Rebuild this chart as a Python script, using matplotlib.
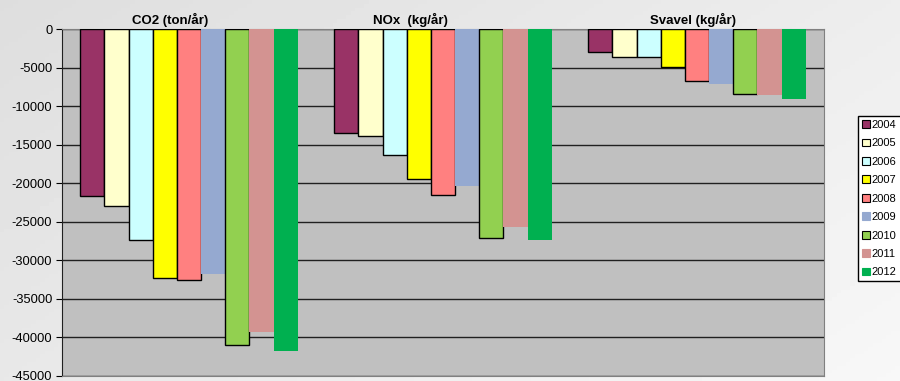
import numpy as np
import matplotlib
matplotlib.use('Agg')
import matplotlib.pyplot as plt
from matplotlib.patches import Patch

plt.rcParams['font.family'] = ['Liberation Sans', 'DejaVu Sans']

# 데이터
groups = ['CO2 (ton/år)', 'NOx  (kg/år)', 'Svavel (kg/år)']
years = ['2004', '2005', '2006', '2007', '2008', '2009', '2010', '2011', '2012']
co2 = [-21700, -22900, -27400, -32300, -32500, -31700, -41000, -39300, -41800]
nox = [-13400, -13800, -16300, -19400, -21500, -20400, -27100, -25600, -27400]
svavel = [-3000, -3550, -3650, -4850, -6650, -7100, -8350, -8550, -9000]

colors = ['#993366', '#FFFFCC', '#CCFFFF', '#FFFF00', '#FF8080',
          '#95A9D0', '#92D050', '#D39391', '#00B050']
edged = [True, True, True, True, True, False, True, False, False]

values = np.array([co2, nox, svavel])

fig = plt.figure(figsize=(9, 3.81), dpi=100)

# 배경 그라데이션
bg = fig.add_axes([0, 0, 1, 1], zorder=-10)
xx, yy = np.meshgrid(np.linspace(0, 1, 200), np.linspace(0, 1, 100))
grad = 0.87 + 0.10 * (0.6 * xx + 0.4 * yy)
bg.imshow(grad, cmap='gray', vmin=0, vmax=1, aspect='auto', extent=[0, 1, 0, 1], origin='upper')
bg.axis('off')

ax = fig.add_axes([62 / 900, 1 - 376 / 381, (824 - 62) / 900, (376 - 29.3) / 381])
ax.set_facecolor('#C0C0C0')

n = len(years)
w = 1 / 10.5
x = np.arange(len(groups))
for i in range(n):
    pos = x - 0.5 + 0.75 * w + (i + 0.5) * w
    ax.bar(pos, values[:, i], width=w, color=colors[i],
           edgecolor='black' if edged[i] else colors[i],
           linewidth=1.0 if edged[i] else 0, zorder=3)

ax.set_xlim(-0.5, 2.5)
ax.set_ylim(-45000, 0)
ax.set_yticks(np.arange(-45000, 1, 5000))
ax.set_yticklabels([str(v) for v in np.arange(-45000, 1, 5000)])
ax.yaxis.grid(True, color='#202020', linewidth=1.0, zorder=1)
ax.set_xticks([])
ax.tick_params(axis='y', direction='out', length=4, labelsize=9.3, pad=3)
for s in ['top', 'right', 'bottom']:
    ax.spines[s].set_color('#808080')
ax.spines['left'].set_color('#202020')

# 그룹 제목
title_x = [170, 410, 693]
for tx, g in zip(title_x, groups):
    fig.text(tx / 900, 1 - 20 / 381, g, ha='center', va='center',
             fontsize=9.5, fontweight='bold')

handles = [Patch(facecolor=c, edgecolor='black' if e else c, linewidth=0.8)
           for c, e in zip(colors, edged)]
fig.legend(handles, years, loc='upper left',
           bbox_to_anchor=(858 / 900, 1 - 116 / 381),
           fontsize=8, frameon=True, fancybox=False, edgecolor='black',
           framealpha=1, handlelength=0.7, handleheight=0.7,
           handletextpad=0.2, labelspacing=0.76, borderpad=0.35,
           borderaxespad=0)

fig.savefig('out.png', dpi=100)
